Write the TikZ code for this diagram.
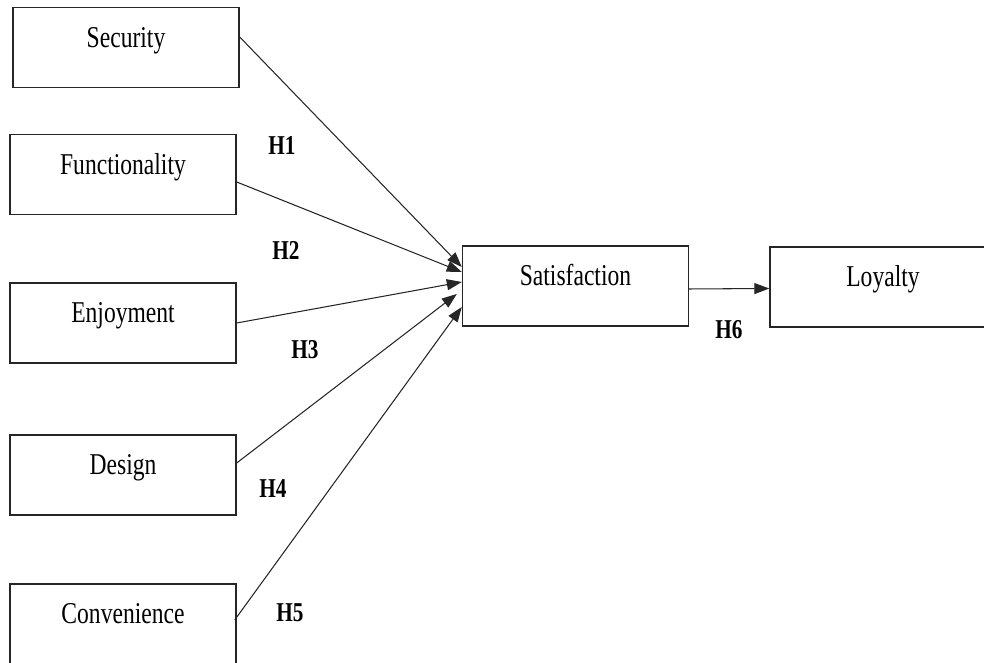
\documentclass[tikz,border=0pt]{standalone}
\usepackage{fontspec}
\setmainfont{Liberation Serif}[FakeStretch=0.78]
\usetikzlibrary{arrows.meta}

\tikzset{
  var/.style={draw=black!85, line width=0.8pt, minimum width=4.52cm, inner sep=0pt,
    text height=0.8cm, text depth=0.8cm, font=\fontsize{17.2}{20}\selectfont},
  hyp/.style={font=\fontsize{15.5}{18}\selectfont\bfseries},
  link/.style={draw=black!85, line width=0.6pt, -{Triangle[length=0.3cm,width=0.22cm]}}
}

\begin{document}
\begin{tikzpicture}
  \clip (0,0) rectangle (19.68,13.26);

  % Konstrukte
  \node[var] (sec) at (2.52,12.31) {Security};
  \node[var] (fun) at (2.46,9.77) {Functionality};
  \node[var] (enj) at (2.46,6.80) {Enjoyment};
  \node[var] (des) at (2.46,3.76) {Design};
  \node[var] (con) at (2.46,0.78) {Convenience};
  \node[var] (sat) at (11.51,7.54) {Satisfaction};
  \node[var] (loy) at (17.66,7.52) {Loyalty};

  % Hypothesen
  \node[hyp] (h1) at (5.64,10.34) {H1};
  \node[hyp] (h2) at (5.72,8.26) {H2};
  \node[hyp] (h3) at (6.10,6.26) {H3};
  \node[hyp] (h4) at (5.46,3.48) {H4};
  \node[hyp] (h5) at (5.80,1.00) {H5};
  \node[hyp] (h6) at (14.58,6.66) {H6};

  \draw[link] ([yshift=0.21cm]sec.east) -- ([yshift=0.38cm]sat.west);
  \draw[link] ([yshift=-0.15cm]fun.east) -- ([yshift=0.28cm]sat.west);
  \draw[link] (enj.east) -- ([yshift=0.08cm]sat.west);
  \draw[link] ([yshift=0.24cm]des.east) -- ([xshift=-0.1cm,yshift=-0.16cm]sat.west);
  \draw[link] ([xshift=-0.04cm,yshift=0.08cm]con.east) -- ([yshift=-0.42cm]sat.west);
  \draw[link] ([yshift=-0.06cm]sat.east) -- ([yshift=-0.03cm]loy.west);

\end{tikzpicture}
\end{document}
